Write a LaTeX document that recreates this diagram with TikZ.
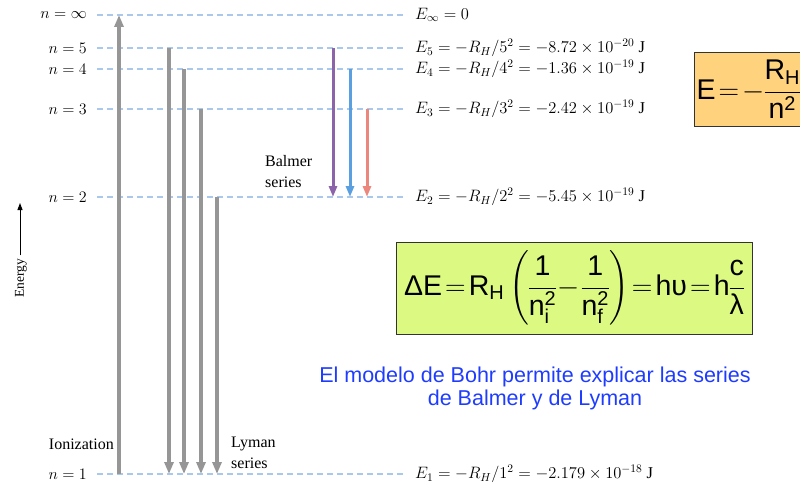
\RequirePackage{fix-cm}
\documentclass[tikz,border=0pt]{standalone}
\usepackage{amsmath}
\usepackage{fontspec}
\setmainfont{Liberation Serif}
\setsansfont{Liberation Sans}
\usetikzlibrary{arrows.meta}
\definecolor{levelblue}{RGB}{170,200,235}
\definecolor{arrowgray}{RGB}{150,150,150}
\definecolor{balmerviolet}{RGB}{140,100,170}
\definecolor{balmerblue}{RGB}{90,160,225}
\definecolor{balmerred}{RGB}{235,135,125}
\definecolor{boxgreen}{RGB}{220,250,130}
\definecolor{boxorange}{RGB}{255,210,125}
\definecolor{textblue}{RGB}{30,60,255}
\newcommand{\tightmath}{\thickmuskip=2mu \medmuskip=1mu \nulldelimiterspace=0pt}
\tikzset{
  level/.style={levelblue, line width=1.4pt, dash pattern=on 6pt off 4pt},
  nlabel/.style={anchor=east, inner sep=0pt, font=\fontsize{16}{18}\selectfont},
  elabel/.style={anchor=west, inner sep=0pt, font=\fontsize{16.5}{18}\selectfont},
  grayarrow/.style={arrowgray, line width=4pt, -{Triangle[length=12pt,width=9pt]}},
  balmerarrow/.style={line width=3pt, -{Triangle[length=11pt,width=8pt]}},
  serieslabel/.style={align=left, inner sep=0pt, font=\fontsize{16}{21}\selectfont},
  formulabox/.style={draw=black!80, line width=1pt, inner sep=1pt,
    font=\sffamily\fontsize{28.5}{32}\selectfont\tightmath}
}
\begin{document}
\begin{tikzpicture}[x=1pt, y=-1pt]
    \useasboundingbox (0,0) rectangle (800,487);
    % energy levels
    \draw[level] (97,15) -- (405,15);
    \draw[level] (97,48) -- (405,48);
    \draw[level] (97,69) -- (405,69);
    \draw[level] (97,109) -- (405,109);
    \draw[level] (97,197) -- (405,197);
    \draw[level] (97,474) -- (405,474);
    \node[nlabel] (ninf) at (87,15) {$n = \infty$};
    \node[nlabel] (n5) at (87,48) {$n = 5$};
    \node[nlabel] (n4) at (87,69) {$n = 4$};
    \node[nlabel] (n3) at (87,109) {$n = 3$};
    \node[nlabel] (n2) at (87,197) {$n = 2$};
    \node[nlabel] (n1) at (87,474) {$n = 1$};
    \node[elabel] (Einf) at (415,15) {$E_\infty = 0$};
    \node[elabel] (E5) at (415,48) {$E_5 = -R_H/5^2 = -8.72 \times 10^{-20}$ J};
    \node[elabel] (E4) at (415,69) {$E_4 = -R_H/4^2 = -1.36 \times 10^{-19}$ J};
    \node[elabel] (E3) at (415,109) {$E_3 = -R_H/3^2 = -2.42 \times 10^{-19}$ J};
    \node[elabel] (E2) at (415,197) {$E_2 = -R_H/2^2 = -5.45 \times 10^{-19}$ J};
    \node[elabel] (E1) at (415,474) {$E_1 = -R_H/1^2 = -2.179 \times 10^{-18}$ J};
    % ionization and Lyman series
    \coordinate (ionlow) at (119,474);
    \coordinate (ionhigh) at (119,15);
    \draw[grayarrow] (ionlow) -- (ionhigh);
    \coordinate (ly5) at (169,48);
    \coordinate (ly4) at (184,69);
    \coordinate (ly3) at (201,109);
    \coordinate (ly2) at (217,197);
    \draw[grayarrow] (ly5) -- (ly5 |- ionlow);
    \draw[grayarrow] (ly4) -- (ly4 |- ionlow);
    \draw[grayarrow] (ly3) -- (ly3 |- ionlow);
    \draw[grayarrow] (ly2) -- (ly2 |- ionlow);
    \node[serieslabel, anchor=east] (ionization) at (114,444) {Ionization};
    \node[serieslabel, anchor=west] (lyman) at (231,453) {Lyman\\series};
    % Balmer series
    \coordinate (ba5) at (333,48);
    \coordinate (ba4) at (350,69);
    \coordinate (ba3) at (367,109);
    \coordinate (bafloor) at (333,197);
    \draw[balmerarrow, balmerviolet] (ba5) -- (ba5 |- bafloor);
    \draw[balmerarrow, balmerblue] (ba4) -- (ba4 |- bafloor);
    \draw[balmerarrow, balmerred] (ba3) -- (ba3 |- bafloor);
    \node[serieslabel, anchor=west] (balmer) at (265,172) {Balmer\\series};
    % energy axis
    \node[rotate=90, inner sep=0pt, font=\fontsize{13.5}{15}\selectfont] (energy) at (21,278) {Energy};
    \coordinate (energytip) at (20,203);
    \draw[line width=1pt, -{Triangle[length=7pt,width=5pt]}] (energy.east -| energytip) ++(0,-3) -- (energytip);
    % formulas
    \node[formulabox, fill=boxgreen, minimum width=356pt, minimum height=92pt] (deltaE) at (574,288)
      {$\text{ΔE} = \text{R}_{\text{H}}\left(\dfrac{\text{1}}{\text{n}_{\text{i}}^{\text{2}}} - \dfrac{\text{1}}{\text{n}_{\text{f}}^{\text{2}}}\right) = \text{hυ} = \text{h}\dfrac{\text{c}}{\text{λ}}$};
    \node[formulabox, fill=boxorange, anchor=west, inner sep=2pt, minimum height=73pt] (bohrE) at (694,89.5)
      {$\text{E} = -\dfrac{\text{R}_{\text{H}}}{\text{n}^{\text{2}}}$\hspace{8pt}};
    \node[align=center, textblue, font=\sffamily\fontsize{21.5}{23}\selectfont] (bohrnote) at (535,388)
      {El modelo de Bohr permite explicar las series\\de Balmer y de Lyman};
\end{tikzpicture}
\end{document}
